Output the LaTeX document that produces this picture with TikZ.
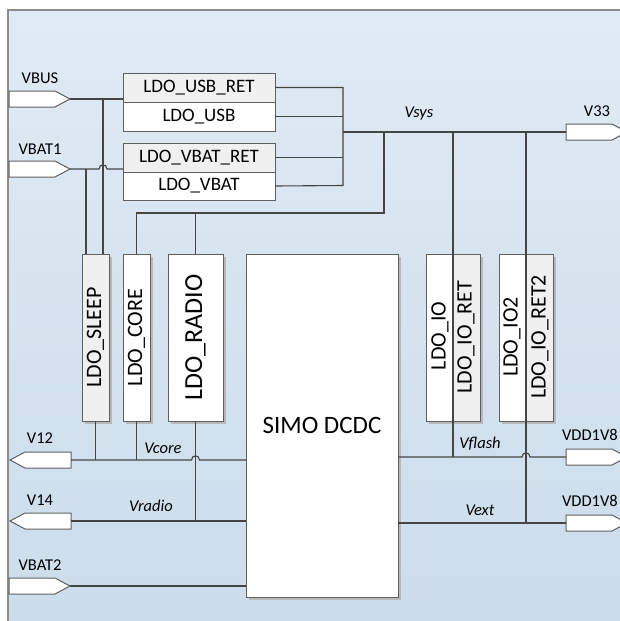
\documentclass[tikz,border=0pt]{standalone}
\usepackage{fontspec}
\setmainfont{Carlito}
\usetikzlibrary{shapes.symbols,shadows}
\definecolor{bgtop}{HTML}{E0EAF4}
\definecolor{bgbot}{HTML}{CBDCEB}
\definecolor{wirec}{HTML}{454545}
\definecolor{boxline}{HTML}{606060}
\definecolor{retfill}{HTML}{F0F0F0}
\definecolor{shadowc}{HTML}{B8B8B8}
\definecolor{framec}{HTML}{8C8C8C}
\newcommand{\mylblfont}{\fontsize{16.5}{19}\selectfont}
\newcommand{\myboxfont}{\fontsize{19}{22}\selectfont}
\newcommand{\myvfont}{\fontsize{22}{26}\selectfont}
\newcommand{\myradiofont}{\fontsize{26}{30}\selectfont}
\newcommand{\mysimofont}{\fontsize{25}{30}\selectfont}
\begin{document}
\begin{tikzpicture}[x=1pt,y=-1pt,
  wire/.style={draw=wirec,line width=1.1pt},
  blk/.style={draw=boxline,line width=1pt,inner sep=0pt,outer sep=0pt,anchor=north west},
  shd/.style={drop shadow={shadow xshift=3pt,shadow yshift=-3pt,fill=shadowc,opacity=1}},
  port/.style={signal,draw=boxline,fill=white,line width=1pt,inner sep=0pt,outer sep=0pt,
    minimum width=61pt,minimum height=16pt,signal pointer angle=56},
  lbl/.style={inner sep=0pt,font=\mylblfont,text=black},
  ilbl/.style={inner sep=0pt,font=\mylblfont\itshape,text=black},
  vlbl/.style={inner sep=0pt,rotate=90,font=\myvfont}
]
\useasboundingbox (0,0) rectangle (620,621);
% background
\path[top color=bgtop,bottom color=bgbot,draw=framec,line width=1.5pt] (8,10) rectangle (640,640);

% top LDO boxes
\node[blk,fill=retfill,minimum width=152pt,minimum height=29pt] (usbret) at (123,73) {\myboxfont LDO\_USB\_RET};
\node[blk,fill=white,minimum width=152pt,minimum height=29pt] (usb) at (123,102) {\myboxfont LDO\_USB};
\node[blk,fill=retfill,minimum width=152pt,minimum height=29pt] (vbatret) at (123,143) {\myboxfont LDO\_VBAT\_RET};
\node[blk,fill=white,minimum width=152pt,minimum height=28pt] (vbat) at (123,172) {\myboxfont LDO\_VBAT};

% vertical LDO boxes
\node[blk,shd,fill=retfill,minimum width=27pt,minimum height=167pt] (sleep) at (82,254) {};
\node[vlbl] (sleeplbl) at (sleep.center) {LDO\_SLEEP};
\node[blk,shd,fill=white,minimum width=27pt,minimum height=167pt] (core) at (123,254) {};
\node[vlbl] (corelbl) at (core.center) {LDO\_CORE};
\node[blk,shd,fill=white,minimum width=55pt,minimum height=167pt] (radio) at (168,254) {};
\node[vlbl,font=\myradiofont] (radiolbl) at (radio.center) {LDO\_RADIO};

% SIMO DCDC
\node[blk,shd,fill=white,minimum width=152pt,minimum height=343pt] (simo) at (246,254) {};
\node[inner sep=0pt,font=\mysimofont] (simolbl) at (322,425) {SIMO DCDC};

% IO groups
\node[blk,shd,fill=white,minimum width=54pt,minimum height=167pt] (iogrp) at (426,254) {};
\node[blk,fill=retfill,draw=none,minimum width=26.5pt,minimum height=166pt] (ioret) at (453,254.5) {};
\node[blk,fill=none,minimum width=54pt,minimum height=167pt] (ioframe) at (426,254) {};
\node[vlbl] (iolbl) at (440,336) {LDO\_IO};
\node[vlbl] (ioretlbl) at (466,337) {LDO\_IO\_RET};
\node[blk,shd,fill=white,minimum width=54pt,minimum height=167pt] (iogrpb) at (499,254) {};
\node[blk,fill=retfill,draw=none,minimum width=26.5pt,minimum height=166pt] (io2ret) at (526,254.5) {};
\node[blk,fill=none,minimum width=54pt,minimum height=167pt] (io2frame) at (499,254) {};
\node[vlbl] (io2lbl) at (512,337) {LDO\_IO2};
\node[vlbl] (io2retlbl) at (540,337) {LDO\_IO\_RET2};

% ports
\node[port,signal to=east,anchor=west] (vbus) at (9,99) {};
\node[port,signal to=east,anchor=west] (vbat1) at (9,169) {};
\node[port,signal to=west,anchor=east] (v12) at (71,460) {};
\node[port,signal to=west,anchor=east] (v14) at (71,521) {};
\node[port,signal to=east,anchor=west] (vbat2) at (9,586) {};
\node[port,signal to=east,anchor=west] (v33) at (566,132) {};
\node[port,signal to=east,anchor=west] (vdda) at (566,457) {};
\node[port,signal to=east,anchor=west] (vddb) at (566,523) {};

% port labels
\node[lbl] (vbuslbl) at (40,78) {VBUS};
\node[lbl] (vbat1lbl) at (40,149) {VBAT1};
\node[lbl] (v12lbl) at (40,438) {V12};
\node[lbl] (v14lbl) at (40,500) {V14};
\node[lbl] (vbat2lbl) at (40,565) {VBAT2};
\node[lbl] (v33lbl) at (597,111) {V33};
\node[lbl,anchor=east] (vddalbl) at (618,435) {VDD1V8};
\node[lbl,anchor=east] (vddblbl) at (618,501) {VDD1V8};

% net labels
\node[ilbl] (vsyslbl) at (419,114) {Vsys};
\node[ilbl] (vcorelbl) at (163,448) {Vcore};
\node[ilbl] (vradiolbl) at (151,506) {Vradio};
\node[ilbl] (vflashlbl) at (480,444) {Vflash};
\node[ilbl] (vextlbl) at (480,510) {Vext};

% input wires
\coordinate (jbus) at (103,99);
\coordinate (jbat) at (86,169);
\draw[wire] (vbus.east) -- (usbret.west |- vbus.east);
\draw[wire] (jbus) -- (jbus |- sleep.north);
\draw[wire] (vbat1.east) -- (99,169) .. controls (99,163.5) and (107,163.5) .. (107,169) -- (vbatret.west |- vbat1.east);
\draw[wire] (jbat) -- (jbat |- sleep.north);

% output bus of top LDOs
\coordinate (busT) at (343,87.5);
\coordinate (busB) at (343,185.5);
\coordinate (vsysL) at (343,132);
\draw[wire] (usbret.east) -- (busT) -- (busB) -- (vbat.east);
\draw[wire] (usb.east) -- (usb.east -| busT);
\draw[wire] (vbatret.east) -- (vbatret.east -| busT);
\draw[wire] (vsysL) -- (v33.west);

% feed to core / radio
\coordinate (fA) at (384,132);
\coordinate (fB) at (384,213);
\draw[wire] (fA) -- (fB) -- (fB -| core.north) -- (core.north);
\draw[wire] (fB -| radio.north) -- (radio.north);

% IO verticals
\coordinate (ioT) at (453,132);
\coordinate (ioB) at (453,457);
\coordinate (io2T) at (526,132);
\coordinate (io2B) at (526,523);
\draw[wire] (ioT) -- (ioB);
\draw[wire] (io2T) -- (io2B);

% left outputs
\draw[wire] (v12.east) -- (191.5,460) .. controls (191.5,454.5) and (199.5,454.5) .. (199.5,460) -- (simo.west |- v12.east);
\draw[wire] (sleep.south) -- (sleep.south |- v12.east);
\draw[wire] (core.south) -- (core.south |- v12.east);
\draw[wire] (radio.south) -- (radio.south |- v14.east);
\draw[wire] (v14.east) -- (simo.west |- v14.east);
\draw[wire] (vbat2.east) -- (simo.west |- vbat2.east);

% right outputs
\draw[wire] (vdda.west -| simo.east) -- (522,457) .. controls (522,451.5) and (530,451.5) .. (530,457) -- (vdda.west);
\draw[wire] (vddb.west -| simo.east) -- (vddb.west);
\end{tikzpicture}
\end{document}
